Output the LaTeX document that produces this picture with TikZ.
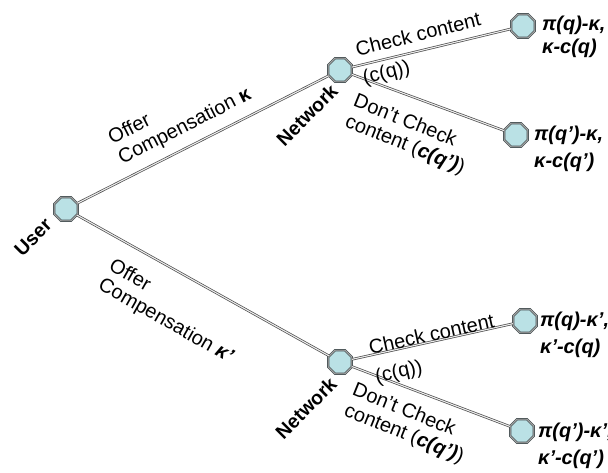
\documentclass[tikz,border=0pt]{standalone}
\usepackage{fontspec}
\setmainfont{Liberation Sans}
\usetikzlibrary{shapes.geometric}
\definecolor{nodefill}{RGB}{186,225,229}
\definecolor{nodeline}{RGB}{70,80,82}
\definecolor{edgeline}{RGB}{75,75,75}
\tikzset{
  decision/.style={regular polygon, regular polygon sides=8, minimum size=25.5pt,
    inner sep=0pt, fill=nodefill, draw=nodeline, line width=0.7pt,
    double=gray!65, double distance=0.9pt},
  branch/.style={draw=edgeline, line width=0.7pt, double=gray!15, double distance=1.1pt},
  actlabel/.style={font=\fontsize{20}{22}\selectfont, align=left, inner sep=0pt},
  checklabel/.style={actlabel, font=\fontsize{20}{29}\selectfont},
  player/.style={font=\fontsize{19.5}{22}\selectfont\bfseries, inner sep=0pt, rotate=45},
  payoff/.style={font=\fontsize{20}{27}\selectfont\bfseries\itshape, align=left,
    inner sep=0pt, anchor=west},
}
\begin{document}
\begin{tikzpicture}[x=1pt, y=-1pt]
  \useasboundingbox (0,0) rectangle (608,473);

  % decision points of the game tree
  \node[decision] (user)   at (66,209)  {};
  \node[decision] (netA)   at (340,70)  {};
  \node[decision] (netB)   at (340,362) {};
  \node[decision] (leafA1) at (523,26)  {};
  \node[decision] (leafA2) at (516,135) {};
  \node[decision] (leafB1) at (525,321) {};
  \node[decision] (leafB2) at (522,431) {};

  % branches
  \draw[branch] (user) -- (netA);
  \draw[branch] (user) -- (netB);
  \draw[branch] (netA) -- (leafA1);
  \draw[branch] (netA) -- (leafA2);
  \draw[branch] (netB) -- (leafB1);
  \draw[branch] (netB) -- (leafB2);

  % players
  \node[player] (userlbl) at (33,237)  {User};
  \node[player] (netAlbl) at (307,115) {Network};
  \node[player] (netBlbl) at (306,408) {Network};

  % actions
  \node[actlabel, rotate=27]    (offerA) at (180,117) {Offer\\Compensation \textbf{κ}};
  \node[actlabel, rotate=-29.5] (offerB) at (171,312) {Offer\\Compensation \textbf{\itshape κ’}};
  \node[checklabel, rotate=14]  (chkA)   at (422,50)  {Check content\\(c(q))};
  \node[actlabel, rotate=-22]   (nchkA)  at (409,135) {Don’t Check\\content (\textbf{\itshape c(q’)})};
  \node[checklabel, rotate=12.5] (chkB)  at (435,350) {Check content\\(c(q))};
  \node[actlabel, rotate=-22]   (nchkB)  at (408,424) {Don’t Check\\content (\textbf{\itshape c(q’)})};

  % payoffs
  \node[payoff, font=\fontsize{20}{23}\selectfont\bfseries\itshape] (payA1) at (542,37) {π(q)-κ,\\κ-c(q)};
  \node[payoff] (payA2) at (534,149) {π(q’)-κ,\\κ-c(q’)};
  \node[payoff] (payB1) at (540,335) {π(q)-κ’,\\κ’-c(q)};
  \node[payoff] (payB2) at (538,446) {π(q’)-κ’,\\κ’-c(q’)};
\end{tikzpicture}
\end{document}
